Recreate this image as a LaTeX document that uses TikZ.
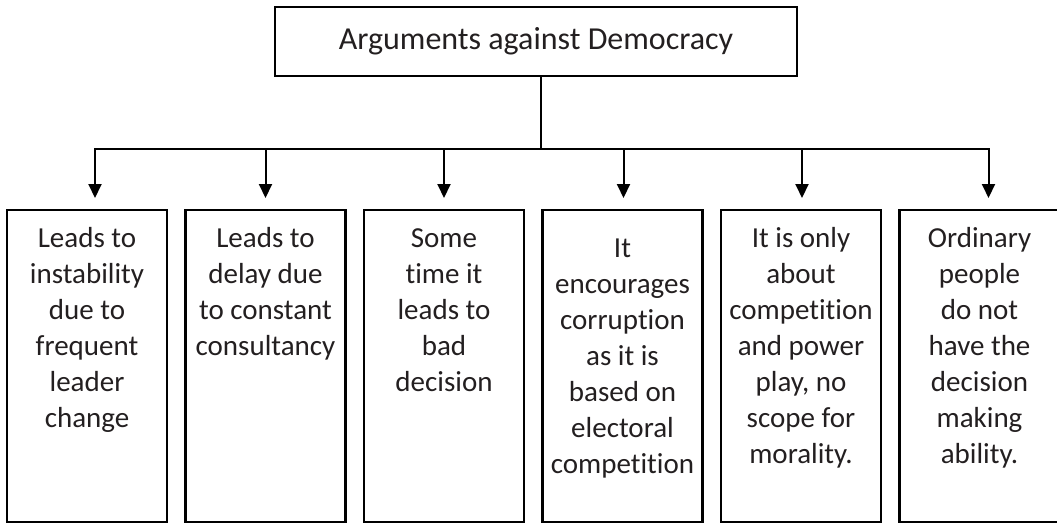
\documentclass[tikz,border=0pt]{standalone}
\usepackage{fontspec}
\setmainfont{Carlito}[Ligatures=CommonOff]
\usepackage{xcolor}
\usetikzlibrary{arrows.meta,positioning}
\definecolor{inkgray}{HTML}{231F20}
\tikzstyle{topbox} = [draw=black, line width=2.5pt, rectangle, outer sep=0pt, minimum width=522pt, minimum height=69pt, text=inkgray, font=\fontsize{32}{38}\selectfont]
\tikzstyle{argbox} = [draw=black, line width=2.5pt, rectangle, outer sep=0pt, inner sep=0pt, text=inkgray]
\tikzstyle{link} = [draw=black, line width=2pt]
\tikzstyle{linkarrow} = [link, -{Triangle[width=13pt,length=14pt]}, shorten >=12pt]
% text of one lower box: #1 space above, #2 lines
\newcommand{\argtext}[2]{%
    \begin{minipage}[t][312pt][t]{160pt}
        \centering\fontsize{29}{36}\selectfont
        \vspace*{#1}\strut #2
    \end{minipage}}

\begin{document}
\begin{tikzpicture}[x=1pt,y=-1pt]
\useasboundingbox (0,0) rectangle (1057,523);
\node [topbox] (top) at (536,41.5) {Arguments against Democracy};
\coordinate (hub) at (541,148.5);

\node [argbox, anchor=north] (b1) at (87,210) {\argtext{12pt}{Leads to\\ instability\\ due to\\ frequent\\ leader\\ change}};
\node [argbox, right=18.5pt of b1] (b2) {\argtext{12pt}{Leads to\\ delay due\\ to constant\\ consultancy}};
\node [argbox, right=18.5pt of b2] (b3) {\argtext{12pt}{Some\\ time it\\ leads to\\ bad\\ decision}};
\node [argbox, right=18.5pt of b3] (b4) {\argtext{22pt}{It\\ encourages\\ corruption\\ as it is\\ based on\\ electoral\\ competition}};
\node [argbox, right=18.5pt of b4] (b5) {\argtext{12pt}{It is only\\ about\\ competition\\ and power\\ play, no\\ scope for\\ morality.}};
\node [argbox, right=18.5pt of b5] (b6) {\argtext{12pt}{Ordinary\\ people\\ do not\\ have the\\ decision\\ making\\ ability.}};

% connectors
\draw [link] (top.south -| hub) -- (hub);
\draw [link, line cap=rect] ([xshift=8pt]b1.north |- hub) -- ([xshift=9pt]b6.north |- hub);
\foreach \i/\dx in {1/8,2/0,3/0,4/1,5/1,6/9}
    \draw [linkarrow] ([xshift=\dx pt]b\i.north |- hub) -- ([xshift=\dx pt]b\i.north);
\end{tikzpicture}
\end{document}
